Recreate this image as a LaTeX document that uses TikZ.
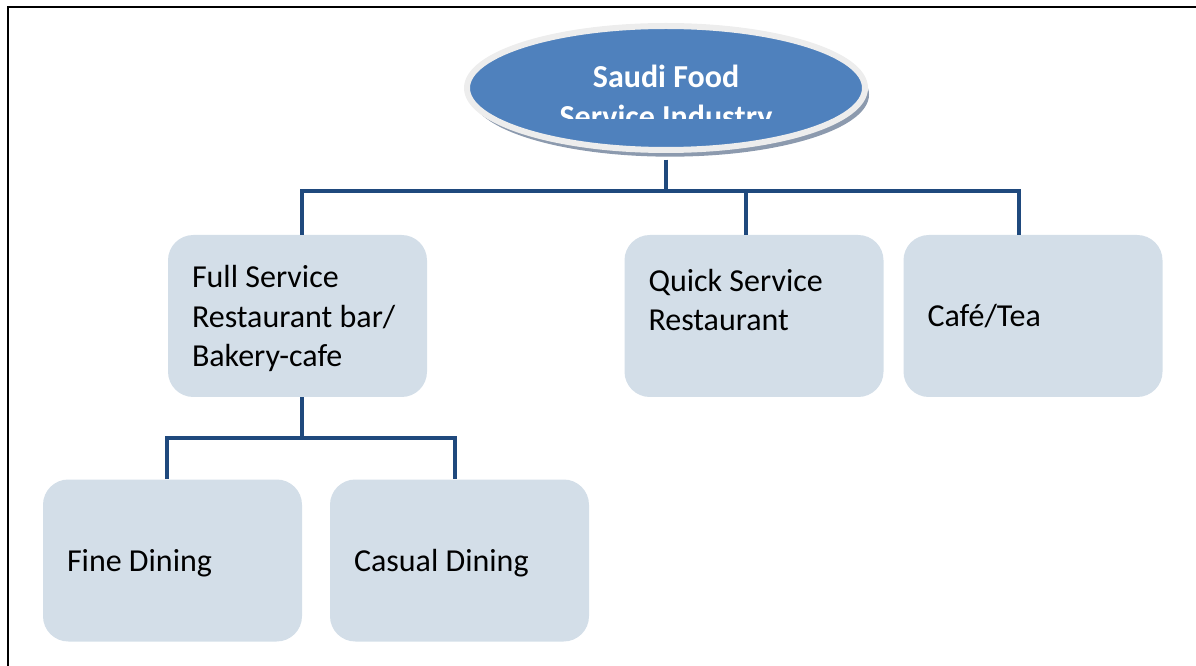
\documentclass[tikz,border=0pt]{standalone}
\usepackage{fontspec}
\setmainfont{Carlito}
\usetikzlibrary{positioning,shapes.geometric,shadows}
\definecolor{boxfill}{RGB}{211,222,232}
\definecolor{linkblue}{RGB}{31,73,125}
\definecolor{headblue}{RGB}{79,129,189}
\definecolor{shadowgray}{RGB}{140,154,174}
\begin{document}
\begin{tikzpicture}[
		x=0.75pt, y=-0.75pt,
		box/.style={
			rounded corners=19pt,
			fill=boxfill,
			minimum width=194.25pt,
			minimum height=121.5pt,
			inner sep=0pt
		},
		txt/.style={
			align=left,
			inner sep=0pt,
			font=\fontsize{24}{29.5}\selectfont
		},
		head/.style={
			ellipse,
			fill=headblue,
			draw=white!93!black,
			line width=4.5pt,
			minimum width=298.5pt,
			minimum height=93pt,
			drop shadow={shadow xshift=3pt, shadow yshift=-5pt, fill=shadowgray, opacity=1}
		},
		line/.style={draw=linkblue, line width=3pt, line join=miter}
		]
		
		\useasboundingbox (0,0) rectangle (1196,666);
		
		% Frame (left and top edges only)
		\draw[line width=1.5pt] (8,666) -- (8,7) -- (1196,7);
		
		% Top node
		\node[head] (sfi) at (666,88) {};
		\begin{scope}
			\clip (460,15) rectangle (872,119);
			\node[txt, align=center, text=white, font=\fontsize{24}{30}\selectfont\bfseries] (sfitext) at (666,99)
			{Saudi Food\\Service Industry};
		\end{scope}
		
		% Second level
		\node[box] (fsr) at (297.5,316) {};
		\node[box] (qsr) at (754,316) {};
		\node[box] (cafe) at (1033,316) {};
		
		\node[txt, right=18pt of fsr.west, yshift=-2pt] (fsrtext) {Full Service\\Restaurant bar/\\Bakery-cafe};
		\node[txt, right=18pt of qsr.west, yshift=12pt] (qsrtext) {Quick Service\\Restaurant};
		\node[txt, right=18pt of cafe.west] (cafetext) {Café/Tea};
		
		% Third level
		\node[box] (fine) at (172.5,560.5) {};
		\node[box] (casual) at (459.5,560.5) {};
		
		\node[txt, right=18pt of fine.west, yshift=-2pt] (finetext) {Fine Dining};
		\node[txt, right=18pt of casual.west, yshift=-2pt] (casualtext) {Casual Dining};
		
		% Junctions
		\coordinate (jl) at (302,191);
		\coordinate (jq) at (746,191);
		\coordinate (jr) at (1019,191);
		\coordinate (jbl) at (167,438);
		\coordinate (jbr) at (455,438);
		
		% Main trunk
		\draw[line] ([yshift=-5pt]sfi.south) -- (sfi.south |- jl);
		
		% Horizontal branch
		\draw[line] (jl |- fsr.north) -- (jl) -- (jr) -- (jr |- cafe.north);
		\draw[line] (jq) -- (jq |- qsr.north);
		
		% Branches to dining types
		\draw[line] (jl |- fsr.south) -- (jl |- jbl);
		\draw[line] (jbl |- fine.north) -- (jbl) -- (jbr) -- (jbr |- casual.north);
		
	\end{tikzpicture}
\end{document}
